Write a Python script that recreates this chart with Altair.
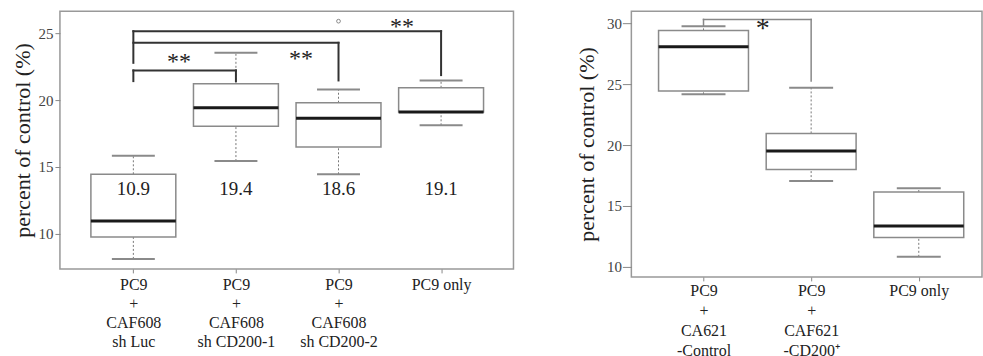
import json
import altair as alt
import pandas as pd

FONT = "Times New Roman"

# ---------------- Left panel data ----------------
left_pos = [1, 2, 3, 4]
left_labels = [["PC9", "+", "CAF608", "sh Luc"],
               ["PC9", "+", "CAF608", "sh CD200-1"],
               ["PC9", "+", "CAF608", "sh CD200-2"],
               ["PC9 only"]]
left_low = [8.11, 15.44, 14.45, 18.12]
left_q1 = [9.76, 18.04, 16.49, 19.11]
left_med = [10.95, 19.43, 18.64, 19.11]
left_q3 = [14.45, 21.23, 19.81, 20.93]
left_high = [15.84, 23.55, 20.81, 21.48]
left_med_text = ["10.9", "19.4", "18.6", "19.1"]
left_med_text_y = [13.33, 13.33, 13.33, 13.33]
left_out_pos = [3]
left_out_val = [25.92]
left_br_x = [1, 1, 2, 1, 3, 1, 1, 4]
left_br_x2 = [2, 1, 2, 3, 3, 4, 1, 4]
left_br_y = [22.23, 21.43, 21.43, 24.30, 21.48, 25.17, 22.80, 21.88]
left_br_y2 = [22.23, 22.23, 22.23, 24.30, 24.30, 25.17, 25.17, 25.17]
left_star_x = [1.445, 2.635, 3.619]
left_star_y = [22.93, 23.15, 25.55]
left_star_t = ["**", "**", "**"]
left_ticks = [10, 15, 20, 25]

# ---------------- Right panel data ----------------
right_pos = [1, 2, 3]
right_labels = [["PC9", "+", "CA621", "-Control"],
                ["PC9", "+", "CAF621", "-CD200\u207a"],
                ["PC9 only"]]
right_low = [24.17, 17.04, 10.81]
right_q1 = [24.44, 18.00, 12.39]
right_med = [28.08, 19.51, 13.35]
right_q3 = [29.43, 20.96, 16.14]
right_high = [29.78, 24.71, 16.44]
right_br_x = [1, 1, 2]
right_br_x2 = [2, 1, 2]
right_br_y = [30.33, 29.78, 25.26]
right_br_y2 = [30.33, 30.33, 30.33]
right_star_x = [1.55]
right_star_y = [29.6]
right_star_t = ["*"]
right_ticks = [10, 15, 20, 25, 30]


def label_expr(labels):
    expr = "''"
    for i in range(len(labels), 0, -1):
        expr = f"datum.value == {i} ? {json.dumps(labels[i-1])} : ({expr})"
    return expr


def panel(pos, labels, low, q1, med, q3, high, xdom, ydom, width, height,
          box_w, cap_w, ticks, yaxis_kw, xaxis_kw,
          br, stars, star_size, br_color, br_width,
          med_text=None, outliers=None):
    df = pd.DataFrame({"pos": pos, "low": low, "q1": q1, "med": med,
                       "q3": q3, "high": high})
    xs = alt.Scale(domain=xdom, nice=False, zero=False)
    ys = alt.Scale(domain=ydom, nice=False, zero=False)
    xaxis = alt.Axis(values=pos, labelExpr=label_expr(labels), grid=False,
                     title=None, labelFont=FONT, labelAngle=0,
                     labelColor="#222", tickColor="#888", domain=False,
                     labelBaseline="top", **xaxis_kw)
    yaxis = alt.Axis(values=ticks, grid=False, title="percent of control (%)",
                     labelFont=FONT, titleFont=FONT, titleFontWeight="normal",
                     titleColor="#222", labelColor="#444", tickColor="#888",
                     domain=False, **yaxis_kw)

    def X(field):
        return alt.X(field, scale=xs, axis=xaxis)

    def Y(field):
        return alt.Y(field, scale=ys, axis=yaxis)

    base = alt.Chart(df)
    whisk_lo = base.mark_rule(color="#777", strokeDash=[2, 2], strokeWidth=1).encode(
        x=X("pos:Q"), y=Y("low:Q"), y2="q1:Q")
    whisk_hi = base.mark_rule(color="#777", strokeDash=[2, 2], strokeWidth=1).encode(
        x=X("pos:Q"), y=Y("q3:Q"), y2="high:Q")
    cap_lo = base.mark_tick(color="#8a8a8a", size=cap_w, thickness=2,
                            opacity=1, orient="horizontal").encode(
        x=X("pos:Q"), y=Y("low:Q"))
    cap_hi = base.mark_tick(color="#8a8a8a", size=cap_w, thickness=2,
                            opacity=1, orient="horizontal").encode(
        x=X("pos:Q"), y=Y("high:Q"))
    box = base.mark_bar(size=box_w, fill="white", stroke="#8a8a8a",
                        strokeWidth=1.5, opacity=1).encode(
        x=X("pos:Q"), y=Y("q1:Q"), y2="q3:Q")
    median = base.mark_tick(color="#1a1a1a", size=box_w, thickness=3,
                            opacity=1, orient="horizontal").encode(
        x=X("pos:Q"), y=Y("med:Q"))
    layers = [whisk_lo, whisk_hi, box, median, cap_lo, cap_hi]

    bdf = pd.DataFrame({"x": br[0], "x2": br[1], "y": br[2], "y2": br[3]})
    brk = alt.Chart(bdf).mark_rule(color=br_color, strokeWidth=br_width,
                                   strokeCap="square").encode(
        x=X("x:Q"), x2="x2:Q", y=Y("y:Q"), y2="y2:Q")
    layers.append(brk)

    sdf = pd.DataFrame({"x": stars[0], "y": stars[1], "t": stars[2]})
    st = alt.Chart(sdf).mark_text(font=FONT, fontSize=star_size, color="#222",
                                  baseline="alphabetic",
                                  dy=round(0.32 * star_size)).encode(
        x=X("x:Q"), y=Y("y:Q"), text="t:N")
    layers.append(st)

    if med_text is not None:
        tdf = pd.DataFrame({"x": pos, "y": med_text[1], "t": med_text[0]})
        layers.append(alt.Chart(tdf).mark_text(font=FONT, fontSize=19,
                                               color="#222",
                                               baseline="middle").encode(
            x=X("x:Q"), y=Y("y:Q"), text="t:N"))
    if outliers is not None:
        odf = pd.DataFrame({"x": outliers[0], "y": outliers[1]})
        layers.append(alt.Chart(odf).mark_point(shape="circle", size=14,
                                                color="#888", strokeWidth=1,
                                                opacity=1,
                                                filled=False).encode(
            x=X("x:Q"), y=Y("y:Q")))

    ch = alt.layer(*layers).properties(
        width=width, height=height,
        view=alt.ViewBackground(stroke="#999", strokeWidth=1.5))
    return ch


left = panel(left_pos, left_labels, left_low, left_q1, left_med, left_q3,
             left_high, [0.333, 4.657], [7.36, 26.67], 454, 258, 85, 43,
             left_ticks,
             dict(tickSize=5, labelPadding=2, labelFontSize=15,
                  titleFontSize=22, titlePadding=3),
             dict(tickSize=4, labelPadding=4, labelFontSize=16,
                  labelLineHeight=19),
             (left_br_x, left_br_x2, left_br_y, left_br_y2),
             (left_star_x, left_star_y, left_star_t), 24, "#333", 2,
             med_text=(left_med_text, left_med_text_y),
             outliers=(left_out_pos, left_out_val))

right = panel(right_pos, right_labels, right_low, right_q1, right_med,
              right_q3, right_high, [0.376, 3.541], [9.16, 31.01], 351, 266,
              90, 44, right_ticks,
              dict(tickSize=9, labelPadding=1, labelFontSize=15,
                   titleFontSize=22, titlePadding=8),
              dict(tickSize=4, labelPadding=2, labelFontSize=16,
                   labelLineHeight=20),
              (right_br_x, right_br_x2, right_br_y, right_br_y2),
              (right_star_x, right_star_y, right_star_t), 28, "#888", 1.5)

chart = alt.hconcat(left, right, spacing=60).configure_view(
    stroke=None).properties(
    padding={"left": 11, "top": 10, "right": 0, "bottom": 0},
    background="white")

chart.save("out.html", embed_options={"renderer": "svg", "actions": False})
